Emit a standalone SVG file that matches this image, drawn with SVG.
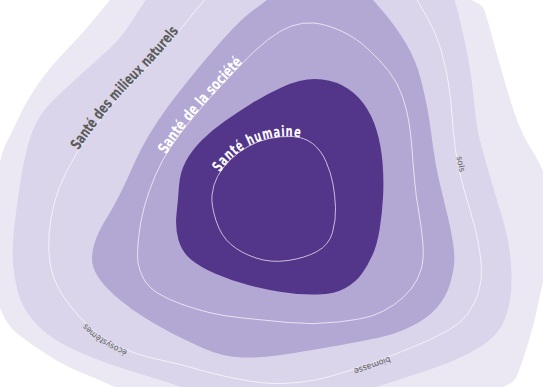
<svg xmlns="http://www.w3.org/2000/svg" width="543" height="387" viewBox="0 0 543 387">
<style>
.contour{fill:none;stroke:#ffffff;stroke-width:0.8;stroke-opacity:0.85}
.big{font-family:"DejaVu Sans Condensed","Liberation Sans Narrow","DejaVu Sans",sans-serif;font-stretch:condensed;font-size:15px;font-weight:bold}
.small{font-family:"DejaVu Sans Condensed","Liberation Sans Narrow","DejaVu Sans",sans-serif;font-stretch:condensed;font-size:8.5px;fill:#5f5f5f}
</style>
<defs>
<path id="lb" d="M281.5,383.5 Q263,384 238,379 Q213,374 196.5,369 Q180,364 165,361 Q150,358 137.5,354 Q125,350 112.5,343.5 Q100,337 90,327.5 Q80,318 71.5,307.5 Q63,297 57.5,286.5 Q52,276 50,263 Q48,250 49,235 Q50,220 54,204 Q58,188 66.5,171.5 Q75,155 86.5,138.5 Q98,122 111.5,106 Q125,90 140,75 Q155,60 167.5,45 Q180,30 190,17.5 Q200,5 215,-12.5 Q230,-30 315,-30 Q400,-30 410,-12.5 Q420,5 428,19 Q436,33 441,50 Q446,67 448.5,83.5 Q451,100 452,115 Q453,130 455,146.5 Q457,163 461.5,180 Q466,197 471,213.5 Q476,230 478.5,244 Q481,258 481.5,269 Q482,280 478.5,292 Q475,304 467.5,314 Q460,324 445,332 Q430,340 413,347 Q396,354 379.5,360 Q363,366 346.5,371.5 Q330,377 315,380 Q300,383 281.5,383.5 Z"/>
<path id="lc" d="M138,262.5 Q137,255 138.5,238.5 Q140,222 144.5,206 Q149,190 155.5,175 Q162,160 171,146.5 Q180,133 192.5,118 Q205,103 217.5,89.5 Q230,76 242.5,63 Q255,50 267.5,40 Q280,30 291.5,26 Q303,22 314,23 Q325,24 340,30.5 Q355,37 367.5,48.5 Q380,60 389,71.5 Q398,83 402.5,96.5 Q407,110 409,122.5 Q411,135 412,149 Q413,163 414.5,180 Q416,197 419,213.5 Q422,230 423,245 Q424,260 421,270 Q418,280 411,289 Q404,298 393.5,305 Q383,312 373,315.5 Q363,319 338,322 Q313,325 288,322.5 Q263,320 243,318 Q223,316 209,312.5 Q195,309 181,304 Q167,299 157.5,293 Q148,287 143.5,278.5 Q139,270 138,262.5 Z"/>
<path id="ld" d="M216,220.5 Q211,205 212,195 Q213,185 217.5,176.5 Q222,168 230,160 Q238,152 248,146.5 Q258,141 269,138.5 Q280,136 292,136.5 Q304,137 312.5,143.5 Q321,150 326,161.5 Q331,173 333,184 Q335,195 335.5,207.5 Q336,220 332.5,232.5 Q329,245 317,251.5 Q305,258 288,260.5 Q271,263 256,258 Q241,253 231,244.5 Q221,236 216,220.5 Z"/>
</defs>
<g id="sante-milieux-exterieur">
<path fill="#ebe8f4" d="M215,-27.5 Q130,-25 120,-12.5 Q110,0 96.5,16.5 Q83,33 66.5,50 Q50,67 38.5,83.5 Q27,100 20,115 Q13,130 6.5,142.5 Q0,155 -7.5,197.5 Q-15,240 -7.5,280 Q0,320 16.5,333 Q33,346 50,356.5 Q67,367 83.5,373.5 Q100,380 112.5,386 Q125,392 222.5,398.5 Q320,405 415,400 Q510,395 517,376 Q524,357 529,340.5 Q534,324 538.5,302 Q543,280 551.5,252.5 Q560,225 551.5,197.5 Q543,170 539.5,163.5 Q536,157 528,143.5 Q520,130 513.5,110 Q507,90 502,72.5 Q497,55 493,40 Q489,25 484.5,10 Q480,-5 390,-17.5 Q300,-30 215,-27.5 Z"/>
</g>
<g id="sante-milieux-naturels">
<path fill="#dad5ea" d="M230,-25 Q160,-20 150,-6 Q140,8 131,22.5 Q122,37 109.5,48.5 Q97,60 82,73.5 Q67,87 56,97.5 Q45,108 38.5,119 Q32,130 28,145 Q24,160 21.5,175 Q19,190 17,205 Q15,220 13.5,235 Q12,250 13,264 Q14,278 18,292.5 Q22,307 32,319 Q42,331 54.5,339 Q67,347 83.5,354 Q100,361 120,367.5 Q140,374 160,380 Q180,386 197.5,393 Q215,400 275,399 Q335,398 357.5,392 Q380,386 396.5,380.5 Q413,375 430,369.5 Q447,364 463.5,356 Q480,348 488.5,341 Q497,334 502,325 Q507,316 509.5,303 Q512,290 511.5,274 Q511,258 508.5,244 Q506,230 501,213.5 Q496,197 491,180 Q486,163 481.5,146.5 Q477,130 475.5,115 Q474,100 472,83.5 Q470,67 466.5,50 Q463,33 459,16.5 Q455,0 450,-12.5 Q445,-25 372.5,-27.5 Q300,-30 230,-25 Z"/>
<use href="#lb" class="contour"/>
<text class="big" fill="#5b5b5b"><textPath href="#lb" startOffset="398" textLength="156" lengthAdjust="spacingAndGlyphs">Santé des milieux naturels</textPath></text>
<text class="small"><textPath href="#lb" startOffset="158" textLength="50" lengthAdjust="spacingAndGlyphs">écosystèmes</textPath></text>
<text class="small"><textPath href="#lb" startOffset="991" textLength="16" lengthAdjust="spacingAndGlyphs">sols</textPath></text>
<text class="small"><textPath href="#lb" startOffset="1244" textLength="38" lengthAdjust="spacingAndGlyphs">biomasse</textPath></text>
</g>
<g id="sante-societe">
<path fill="#b3a7d3" d="M322.5,-20 Q290,-20 277.5,-9 Q265,2 255,9 Q245,16 233.5,28 Q222,40 211,53 Q200,66 189,79.5 Q178,93 168,106.5 Q158,120 149,135 Q140,150 133.5,165 Q127,180 120,194 Q113,208 105.5,220 Q98,232 94.5,243.5 Q91,255 92.5,263.5 Q94,272 101,281 Q108,290 120,300 Q132,310 146,318.5 Q160,327 172.5,333.5 Q185,340 204,348.5 Q223,357 243,357.5 Q263,358 288,354 Q313,350 338,345.5 Q363,341 379.5,337.5 Q396,334 412,326 Q428,318 437,307.5 Q446,297 449.5,285.5 Q453,274 454,265 Q455,256 453,243 Q451,230 447,213.5 Q443,197 439,180 Q435,163 433,146.5 Q431,130 428.5,115 Q426,100 421,80 Q416,60 406,43.5 Q396,27 385.5,14.5 Q375,2 365,-9 Q355,-20 322.5,-20 Z"/>
<use href="#lc" class="contour"/>
<text class="big" fill="#ffffff"><textPath href="#lc" startOffset="113" textLength="120" lengthAdjust="spacingAndGlyphs">Santé de la société</textPath></text>
</g>
<g id="sante-humaine">
<path fill="#53358a" d="M176.5,214 Q178,200 179,186 Q180,172 186,161 Q192,150 202,140 Q212,130 225,121 Q238,112 251.5,103.5 Q265,95 282.5,87 Q300,79 315,79 Q330,79 342.5,85.5 Q355,92 363.5,103.5 Q372,115 376.5,130 Q381,145 382.5,162.5 Q384,180 383,197.5 Q382,215 379.5,230 Q377,245 372.5,255 Q368,265 362,273.5 Q356,282 345.5,288 Q335,294 317.5,294.5 Q300,295 281.5,292 Q263,289 246.5,284.5 Q230,280 215,273.5 Q200,267 191,259.5 Q182,252 178.5,240 Q175,228 176.5,214 Z"/>
<use href="#ld" class="contour" stroke-opacity="0.6"/>
<text class="big" fill="#ffffff" letter-spacing="1"><textPath href="#ld" startOffset="50" textLength="93" lengthAdjust="spacingAndGlyphs">Santé humaine</textPath></text>
</g>
</svg>
